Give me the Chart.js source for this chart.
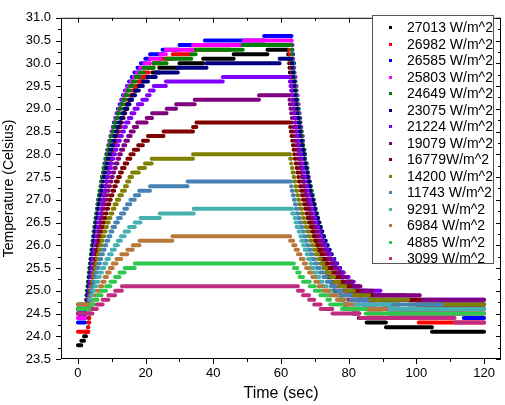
<!DOCTYPE html>
<html>
<head>
<meta charset="utf-8">
<script src="https://cdn.jsdelivr.net/npm/chart.js@4.4.1/dist/chart.umd.min.js"></script>
<style>
  html, body { margin: 0; padding: 0; background: #fff; }
  #wrap { position: relative; width: 505px; height: 405px; }
  #legend { position: absolute; left: 372px; top: 15px; width: 120px; height: 247px;
            border: 1px solid #555; background: #fff; box-sizing: content-box;
            font-family: 'Liberation Sans', Arial, sans-serif; font-size: 14px; color: #000; }
  .row { position: absolute; left: 0; height: 16px; line-height: 16px; white-space: nowrap; }
  .mk { position: absolute; left: 16px; top: 7px; width: 3px; height: 3px; }
  .tx { position: absolute; left: 34px; top: 0; }
</style>
</head>
<body>
<div id="wrap">
  <canvas id="chart" width="505" height="405"></canvas>
  <div id="legend"></div>
</div>
<script>
// heat flux of each run, legend order
const labels = ['27013 W/m^2', '26982 W/m^2', '26585 W/m^2', '25803 W/m^2', '24649 W/m^2',
  '23075 W/m^2', '21224 W/m^2', '19079 W/m^2', '16779W/m^2', '14200 W/m^2',
  '11743 W/m^2', '9291 W/m^2', '6984 W/m^2', '4885 W/m^2', '3099 W/m^2'];

// reading at t = 0 (Celsius); sensor steps by 0.1
const startTemps = [23.8, 24.1, 24.3, 24.4, 24.5, 24.5, 24.5, 24.6, 24.6, 24.7, 24.7, 24.7, 24.7, 24.6, 24.5];
const STEP = 0.1;
const END_TIME = 120;

// times (sec) at which each run reads one step higher
const rise27013 = [1.0,1.8,2.4,3.0,3.1,3.2,3.3,3.5,3.6,3.7,3.8,4.0,4.1,4.3,4.4,4.6,4.7,4.9,5.0,5.2,
  5.3,5.5,5.7,5.8,6.0,6.2,6.4,6.6,6.8,7.0,7.2,7.4,7.6,7.9,8.1,8.3,8.6,8.8,9.1,9.4,
  9.7,10.0,10.3,10.6,11.0,11.4,11.7,12.1,12.6,13.0,13.5,14.0,14.6,15.2,15.9,16.6,17.4,18.3,19.4,22,
  24,30,37,46,56];
const rise26982 = [3.1,3.2,3.4,3.5,3.6,3.7,3.9,4.0,4.1,4.3,4.4,4.5,4.7,4.8,5.0,5.1,5.3,5.4,5.6,5.8,
  5.9,6.1,6.3,6.5,6.7,6.8,7.0,7.2,7.5,7.7,7.9,8.1,8.4,8.6,8.8,9.1,9.4,9.7,10.0,10.3,
  10.6,10.9,11.3,11.6,12.0,12.4,12.8,13.3,13.8,14.3,14.9,15.5,16.1,16.9,17.7,18.6,19.6,20.9,22.3,24.2,
  28,33,45];
const rise26585 = [2.1,2.2,2.4,2.5,2.6,2.7,2.9,3.0,3.1,3.3,3.4,3.5,3.7,3.8,4.0,4.1,4.3,4.4,4.6,4.8,
  4.9,5.1,5.3,5.5,5.7,5.8,6.0,6.2,6.5,6.7,6.9,7.1,7.4,7.6,7.8,8.1,8.4,8.7,9.0,9.3,
  9.6,9.9,10.3,10.6,11.0,11.4,11.8,12.3,12.8,13.3,13.9,14.5,15.1,15.9,16.7,17.6,18.6,19.9,21.3,
  25,30,37.5,55];
const rise25803 = [2.1,2.2,2.4,2.5,2.6,2.8,2.9,3.0,3.2,3.3,3.4,3.6,3.7,3.9,4.0,4.2,4.4,4.5,4.7,4.9,
  5.1,5.2,5.4,5.6,5.8,6.0,6.2,6.4,6.7,6.9,7.1,7.4,7.6,7.9,8.2,8.4,8.7,9.0,9.3,9.7,
  10.0,10.4,10.8,11.2,11.6,12.1,12.6,13.1,13.6,14.2,14.9,15.6,16.5,17.4,18.4,19.6,21.3,24.3,26,34,49];
const rise24649 = [2.1,2.3,2.4,2.5,2.6,2.8,2.9,3.1,3.2,3.4,3.5,3.7,3.8,4.0,4.1,4.3,4.5,4.6,4.8,5.0,
  5.2,5.4,5.6,5.8,6.0,6.2,6.4,6.7,6.9,7.1,7.4,7.6,7.9,8.2,8.5,8.8,9.1,9.4,9.8,10.2,
  10.5,10.9,11.4,11.8,12.3,12.8,13.4,14.0,14.7,15.4,16.2,17.1,18.2,19.4,22.4,26.2,33.5,34.8,48.7];
const rise23075 = [2.3,2.5,2.6,2.7,2.9,3.0,3.2,3.3,3.5,3.6,3.8,3.9,4.1,4.3,4.5,4.6,4.8,5.0,5.2,5.4,
  5.6,5.8,6.0,6.2,6.5,6.7,7.0,7.2,7.5,7.7,8.0,8.3,8.6,8.9,9.3,9.6,10.0,10.4,10.8,11.2,
  11.6,12.1,12.7,13.2,13.8,14.5,15.2,16.0,16.9,18.0,19.2,20.7,23,29.5,38,59.6];
const rise21224 = [2.6,2.8,2.9,3.1,3.2,3.4,3.5,3.7,3.9,4.0,4.2,4.4,4.6,4.8,5.0,5.2,5.4,5.6,5.8,6.0,
  6.2,6.5,6.7,7.0,7.2,7.5,7.8,8.1,8.4,8.7,9.0,9.4,9.7,10.1,10.5,11.0,11.4,11.9,12.4,13.0,
  13.6,14.2,15.0,15.8,16.7,17.7,19.0,20.4,21.2,22.4,26,42.8];
const rise19079 = [3.2,3.3,3.5,3.6,3.8,4.0,4.2,4.4,4.5,4.7,4.9,5.1,5.3,5.5,5.8,6.0,6.2,6.5,6.7,7.0,
  7.3,7.5,7.8,8.1,8.5,8.8,9.1,9.5,9.9,10.3,10.7,11.2,11.7,12.2,12.7,13.4,14.0,14.8,15.6,16.5,
  17.5,20.3,21.9,26.2,29,34.5,53.5];
const rise16779 = [3.2,3.4,3.6,3.7,3.9,4.1,4.4,4.6,4.8,5.0,5.3,5.5,5.7,6.0,6.3,6.6,6.9,7.2,7.5,7.8,
  8.2,8.5,8.9,9.3,9.7,10.2,10.7,11.2,11.8,12.4,13.0,13.8,14.6,15.5,16.5,17.8,19.2,20.7,25.3,34,35];
const rise14200 = [3.2,3.5,3.7,3.9,4.2,4.5,4.7,5.0,5.3,5.6,5.9,6.2,6.6,7.0,7.3,7.8,8.2,8.6,9.1,9.6,
  10.2,10.8,11.5,12.2,13.0,13.9,14.5,15.2,16.0,18.0,19.8,21.8,34];
const rise11743 = [3.5,3.8,4.0,4.3,4.7,5.0,5.3,5.7,6.1,6.5,6.9,7.4,7.9,8.4,9.0,9.6,10.2,11.0,11.8,12.7,
  13.7,14.5,15.5,16.8,18.1,21.3,32.4];
const rise9291 = [3.6,4.0,4.4,4.9,5.4,6.0,6.5,7.1,7.8,8.4,9.2,10.0,10.9,11.8,12.7,13.8,15.1,16.8,18.5,24.2,34.2];
const rise6984 = [4.6,5.2,5.8,6.5,7.2,7.9,8.6,9.4,10.3,11.4,12.8,14.6,16.2,18.2,27.9];
const rise4885 = [3.8,4.8,5.8,7.0,8.3,9.6,11.0,12.3,13.8,16.8];
const rise3099 = [4.3,5.6,7.3,9.0,11.0,13.0];

// times (sec) at which each run reads one step lower, after the heater is off
const fall27013 = [62.1,62.2,62.4,62.5,62.6,62.7,62.9,63.0,63.1,63.3,63.4,63.6,63.7,63.9,64.0,64.2,64.3,64.5,64.7,64.8,
  65.0,65.2,65.4,65.5,65.7,65.9,66.1,66.3,66.6,66.8,67.0,67.2,67.5,67.7,68.0,68.3,68.6,68.8,69.1,69.5,
  69.8,70.1,70.5,70.9,71.3,71.7,72.2,72.7,73.2,73.8,74.4,75.0,75.8,76.6,77.5,78.5,79.7,81.2,83.0,85.3,
  91,104.6];
const fall26982 = [62.4,62.5,62.7,62.8,62.9,63.1,63.2,63.3,63.5,63.6,63.7,63.9,64.0,64.2,64.3,64.5,64.7,64.8,65.0,65.2,
  65.4,65.5,65.7,65.9,66.1,66.3,66.5,66.7,67.0,67.2,67.4,67.7,67.9,68.2,68.5,68.7,69.0,69.3,69.6,70.0,
  70.3,70.7,71.1,71.5,71.9,72.4,72.9,73.4,73.9,74.5,75.2,75.9,76.8,77.7,78.7,79.9,81.4,83.2,85.7,90,100.7];
const fall26585 = [63.1,63.2,63.4,63.5,63.6,63.7,63.9,64.0,64.1,64.3,64.4,64.6,64.7,64.9,65.0,65.2,65.3,65.5,65.7,65.8,
  66.0,66.2,66.4,66.5,66.7,66.9,67.1,67.3,67.6,67.8,68.0,68.2,68.5,68.7,69.0,69.3,69.6,69.8,70.1,70.5,
  70.8,71.1,71.5,71.9,72.3,72.7,73.2,73.7,74.2,74.8,75.4,76.0,76.8,77.6,78.5,79.5,80.7,82.2,84.0,86.5,
  92,114];
const fall25803 = [63.1,63.3,63.4,63.5,63.6,63.8,63.9,64.0,64.2,64.3,64.5,64.6,64.8,64.9,65.1,65.2,65.4,65.6,65.8,65.9,
  66.1,66.3,66.5,66.7,66.9,67.1,67.3,67.5,67.8,68.0,68.3,68.5,68.8,69.0,69.3,69.6,69.9,70.2,70.6,70.9,
  71.3,71.7,72.1,72.5,72.9,73.4,74.0,74.5,75.1,75.8,76.5,77.3,78.2,79.3,80.5,82.0,83.8,86.3,88,95];
const fall24649 = [63.1,63.3,63.4,63.5,63.7,63.8,63.9,64.1,64.2,64.4,64.5,64.7,64.8,65.0,65.2,65.3,65.5,65.7,65.9,66.1,
  66.2,66.4,66.6,66.9,67.1,67.3,67.5,67.8,68.0,68.2,68.5,68.8,69.1,69.4,69.7,70.0,70.3,70.7,71.0,71.4,
  71.8,72.2,72.7,73.2,73.7,74.3,74.9,75.5,76.3,77.1,78.0,79.0,80.3,81.7,83.6,86.0,89.7,95];
const fall23075 = [63.1,63.3,63.4,63.6,63.7,63.9,64.0,64.2,64.3,64.5,64.7,64.8,65.0,65.2,65.4,65.5,65.7,65.9,66.1,66.3,
  66.6,66.8,67.0,67.2,67.5,67.7,68.0,68.3,68.6,68.8,69.1,69.5,69.8,70.1,70.5,70.9,71.3,71.7,72.2,72.7,
  73.2,73.8,74.4,75.0,75.8,76.6,77.5,78.5,79.7,81.2,83.0,85.5,90,100];
const fall21224 = [62.6,62.8,63.0,63.1,63.3,63.4,63.6,63.8,64.0,64.2,64.3,64.5,64.7,64.9,65.1,65.3,65.6,65.8,66.0,66.3,
  66.5,66.8,67.1,67.3,67.6,67.9,68.3,68.6,68.9,69.3,69.7,70.1,70.5,71.0,71.5,72.0,72.5,73.2,73.8,74.6,
  75.4,76.3,77.3,78.5,80.0,81.5,83,89.4,96.8];
const fall19079 = [62.5,62.6,62.8,63.0,63.2,63.3,63.5,63.7,63.9,64.1,64.3,64.5,64.8,65.0,65.2,65.5,65.7,66.0,66.3,66.5,
  66.8,67.1,67.4,67.8,68.1,68.5,68.9,69.3,69.7,70.2,70.7,71.2,71.7,72.3,73.0,73.7,74.6,75.5,76.5,77.7,
  79.2,81.0,83.5,87.2,101];
const fall16779 = [62.7,62.9,63.1,63.3,63.5,63.7,63.9,64.1,64.3,64.6,64.8,65.1,65.3,65.6,65.9,66.2,66.5,66.8,67.1,67.5,
  67.8,68.2,68.6,69.1,69.5,70.0,70.5,71.1,71.7,72.4,73.1,73.9,74.8,75.9,77.1,78.5,80.4,82.8,86.6,101];
const fall14200 = [62.7,63.0,63.2,63.4,63.7,64.0,64.2,64.5,64.8,65.1,65.4,65.7,66.1,66.5,66.8,67.3,67.7,68.1,68.6,69.1,
  69.7,70.3,71.0,71.7,72.5,73.4,74.5,75.7,77.2,79.0,81.5,86,97.6];
const fall11743 = [63.0,63.2,63.5,63.8,64.1,64.4,64.8,65.1,65.5,65.9,66.3,66.7,67.2,67.6,68.2,68.7,69.3,70.0,70.7,71.5,
  72.5,73.5,74.7,76.2,78.0,80.5,85.6,107.6];
const fall9291 = [63.3,64.0,64.3,64.6,65.2,65.7,66.0,66.5,67.0,67.6,68.0,68.7,69.0,69.8,70.6,71.3,72.3,73.5,75.0,77.0,79.0,92.0];
const fall6984 = [62.7,63.6,64.3,65.0,65.8,66.7,67.4,68.3,69.2,70.1,71.1,72.3,74.2,76.5,78.5,81.0,91.0];
const fall4885 = [63.8,64.8,65.5,66.5,68.5,70.0,71.6,73.7,74.5,78.0,85.0];
const fall3099 = [65.0,66.5,68.3,69.8,71.7,75.2,83.2,111.3];

const riseTimes = [rise27013, rise26982, rise26585, rise25803, rise24649, rise23075, rise21224, rise19079,
  rise16779, rise14200, rise11743, rise9291, rise6984, rise4885, rise3099];
const fallTimes = [fall27013, fall26982, fall26585, fall25803, fall24649, fall23075, fall21224, fall19079,
  fall16779, fall14200, fall11743, fall9291, fall6984, fall4885, fall3099];

const xTicks = [0, 20, 40, 60, 80, 100, 120];
const xTickMarks = [0, 10, 20, 30, 40, 50, 60, 70, 80, 90, 100, 110, 120];
const yTicks = [23.5, 24.0, 24.5, 25.0, 25.5, 26.0, 26.5, 27.0, 27.5, 28.0, 28.5, 29.0, 29.5, 30.0, 30.5, 31.0];

const colors = ['#000000', '#ff0000', '#0000ff', '#ff00ff', '#008000', '#000080', '#8000ff', '#800080',
  '#800000', '#808000', '#4682b4', '#44b0b0', '#b8783c', '#2ec84c', '#c02c80'];

// each reading level becomes one horizontal run: start, end, gap
function toRuns(t0, rise, fall) {
  const steps = [];
  let lvl = Math.round(t0 / STEP);
  steps.push([0, lvl]);
  rise.forEach(t => { lvl += 1; steps.push([t, lvl]); });
  fall.forEach(t => { lvl -= 1; steps.push([t, lvl]); });
  const pts = [];
  steps.forEach((s, i) => {
    const end = i + 1 < steps.length ? steps[i + 1][0] : END_TIME;
    const v = +(s[1] * STEP).toFixed(1);
    pts.push({x: s[0], y: v}, {x: end, y: v}, {x: end, y: null});
  });
  return pts;
}

const datasets = labels.map((lab, i) => ({
  label: lab,
  data: toRuns(startTemps[i], riseTimes[i], fallTimes[i]),
  borderColor: colors[i],
  backgroundColor: colors[i],
  borderWidth: 4,
  borderCapStyle: 'round',
  pointRadius: 0,
  tension: 0,
  spanGaps: false,
  order: labels.length - 1 - i
}));

// frame with ticks on all four sides (outward left/bottom, inward top/right)
const frameTicks = {
  id: 'frameTicks',
  afterDraw(chart) {
    const {ctx, chartArea: a, scales: {x, y}} = chart;
    ctx.save();
    ctx.strokeStyle = '#000';
    ctx.lineWidth = 1;
    ctx.strokeRect(a.left + 0.5, a.top + 0.5, a.right - a.left - 1, a.bottom - a.top - 1);
    const line = (x1, y1, x2, y2) => { ctx.beginPath(); ctx.moveTo(x1, y1); ctx.lineTo(x2, y2); ctx.stroke(); };
    xTickMarks.forEach(v => {
      const px = Math.round(x.getPixelForValue(v)) + 0.5;
      const len = xTicks.includes(v) ? 5 : 3;
      line(px, a.bottom, px, a.bottom + len);
      line(px, a.top, px, a.top + len);
    });
    for (let k = 0; k < yTicks.length; k++) {
      const v = yTicks[k];
      const py = Math.round(y.getPixelForValue(v)) + 0.5;
      line(a.left - 5, py, a.left, py);
      line(a.right - 5, py, a.right, py);
      if (k + 1 < yTicks.length) {
        const pm = Math.round(y.getPixelForValue((v + yTicks[k + 1]) / 2)) + 0.5;
        line(a.left - 3, pm, a.left, pm);
        line(a.right - 3, pm, a.right, pm);
      }
    }
    ctx.restore();
  }
};

Chart.defaults.font.family = "'Liberation Sans', Arial, sans-serif";
Chart.defaults.color = '#000';

new Chart(document.getElementById('chart'), {
  type: 'line',
  data: { datasets },
  options: {
    responsive: false,
    animation: false,
    events: [],
    layout: { padding: { top: 10, right: 4, left: 0, bottom: 0 } },
    plugins: { legend: { display: false }, tooltip: { enabled: false } },
    scales: {
      x: {
        type: 'linear', min: -5, max: 125,
        afterBuildTicks: s => { s.ticks = xTicks.map(v => ({ value: v })); },
        afterFit: s => { s.height = 46; },
        ticks: { font: { size: 13 }, padding: 7, autoSkip: false, maxRotation: 0 },
        grid: { display: false, drawTicks: false },
        border: { display: false },
        title: { display: true, text: 'Time (sec)', font: { size: 16 }, padding: { top: 0, bottom: 2 } }
      },
      y: {
        type: 'linear', min: 23.5, max: 31.0,
        afterBuildTicks: s => { s.ticks = yTicks.map(v => ({ value: v })); },
        afterFit: s => { s.width = 61; },
        ticks: { font: { size: 13 }, padding: 10, autoSkip: false, callback: v => Number(v).toFixed(1) },
        grid: { display: false, drawTicks: false },
        border: { display: false },
        title: { display: true, text: 'Temperature (Celsius)', font: { size: 14 }, padding: { top: 1, bottom: 0 } }
      }
    }
  },
  plugins: [frameTicks]
});

// boxed legend inside the plot, as in the original
const legendBox = document.getElementById('legend');
labels.forEach((lab, i) => {
  const row = document.createElement('div');
  row.className = 'row';
  row.style.top = (3 + i * 16.5) + 'px';
  row.innerHTML = '<span class="mk" style="background:' + colors[i] + '"></span><span class="tx">' + lab + '</span>';
  legendBox.appendChild(row);
});
</script>
</body>
</html>
